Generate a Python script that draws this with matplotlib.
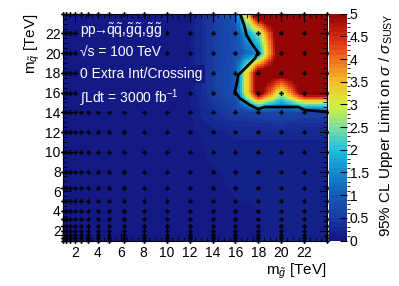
import numpy as np
import matplotlib
matplotlib.use("Agg")
import matplotlib.pyplot as plt
from matplotlib.colors import LinearSegmentedColormap, BoundaryNorm
from matplotlib.ticker import MultipleLocator

plt.rcParams["font.family"] = ["Liberation Sans", "DejaVu Sans"]
plt.rcParams["mathtext.fontset"] = "custom"
plt.rcParams["mathtext.rm"] = "Liberation Sans"
plt.rcParams["mathtext.it"] = "Liberation Sans:italic"
plt.rcParams["mathtext.sf"] = "Liberation Sans"

# signal grid (gluino mass x squark mass), TeV
mass_points = [1, 1.25, 1.6, 2, 2.5, 3.15, 4, 5, 6.3, 8, 10, 12, 14, 16, 18, 20, 22, 24]

lim_gluino = [1, 4, 8, 12, 14, 16, 18, 20, 22, 24]
lim_squark = [1, 4, 8, 12, 14, 16, 18, 20, 22, 24]
limit = [
    [0.03, 0.03, 0.04, 0.05, 0.07, 0.09, 0.10, 0.10, 0.10, 0.10],  # mq = 1
    [0.03, 0.03, 0.04, 0.05, 0.07, 0.09, 0.10, 0.10, 0.10, 0.10],  # 4
    [0.03, 0.03, 0.04, 0.05, 0.09, 0.12, 0.12, 0.12, 0.12, 0.12],  # 8
    [0.03, 0.04, 0.05, 0.07, 0.15, 0.22, 0.22, 0.22, 0.22, 0.22],  # 12
    [0.03, 0.04, 0.05, 0.08, 0.35, 0.55, 0.60, 0.70, 0.60, 0.60],  # 14
    [0.03, 0.04, 0.05, 0.08, 0.50, 0.90, 5.50, 2.80, 5.50, 5.50],  # 16
    [0.03, 0.04, 0.05, 0.08, 0.50, 0.90, 5.50, 5.50, 5.50, 5.50],  # 18
    [0.03, 0.04, 0.05, 0.08, 0.50, 0.80, 1.50, 6.00, 6.00, 6.00],  # 20
    [0.03, 0.04, 0.05, 0.08, 0.50, 0.80, 2.50, 6.00, 6.00, 6.00],  # 22
    [0.03, 0.04, 0.05, 0.08, 0.50, 1.00, 6.00, 6.00, 6.00, 6.00],  # 24
]

# exclusion contour (sigma/sigma_SUSY = 1)
excl_gluino = [16.4, 16.76, 16.97, 17.41, 17.98, 17.70, 17.05, 16.24, 16.10,
               15.95, 16.39, 17.26, 17.98, 18.57, 21.47, 22.06, 24.0]
excl_squark = [24.0, 22.85, 21.83, 20.99, 20.04, 19.47, 18.70, 17.78, 16.77,
               16.09, 15.42, 14.74, 14.33, 14.54, 14.54, 14.23, 14.06]

palette = LinearSegmentedColormap.from_list("root", [
    (0.0, (0.08, 0.10, 0.52)),
    (0.1, (0.10, 0.24, 0.64)),
    (0.2, (0.08, 0.36, 0.72)),
    (0.3, (0.08, 0.55, 0.80)),
    (0.4, (0.12, 0.76, 0.88)),
    (0.5, (0.50, 0.87, 0.62)),
    (0.6, (0.84, 0.94, 0.24)),
    (0.7, (0.95, 0.76, 0.16)),
    (0.8, (0.95, 0.44, 0.12)),
    (0.9, (0.84, 0.16, 0.07)),
    (1.0, (0.58, 0.02, 0.02)),
], N=50)
palette.set_over((0.58, 0.02, 0.02))
levels = np.linspace(0, 5, 51)
norm = BoundaryNorm(levels, palette.N)

# bilinear fill of the limit map on a fine grid
xf = np.linspace(1, 24, 120)
yf = np.linspace(1, 24, 120)
lim_arr = np.array(limit)
rows = np.array([np.interp(xf, lim_gluino, r) for r in lim_arr])
zf = np.array([np.interp(yf, lim_squark, rows[:, j]) for j in range(len(xf))]).T

fig = plt.figure(figsize=(3.99, 2.86), dpi=100)
ax = fig.add_axes([0.159, 0.159, 0.661, 0.793])
mesh = ax.pcolormesh(xf, yf, zf, cmap=palette, norm=norm, shading="nearest")

gx, gy = np.meshgrid(mass_points, mass_points)
ax.plot(gx.ravel(), gy.ravel(), "P", color="black", ms=3.4, mew=0, clip_on=False, zorder=4)
ax.plot(excl_gluino, excl_squark, color="black", lw=2, zorder=5)

ax.set_xlim(1, 24)
ax.set_ylim(1, 24)
ax.set_xticks(range(2, 23, 2))
ax.set_yticks(range(2, 23, 2))
ax.xaxis.set_minor_locator(MultipleLocator(0.5))
ax.yaxis.set_minor_locator(MultipleLocator(0.5))
ax.tick_params(which="both", direction="in", top=True, right=True, labelsize=10)
ax.tick_params(which="major", length=6)
ax.tick_params(which="minor", length=3)
ax.tick_params(axis="x", pad=4)
ax.tick_params(axis="y", pad=2)

ax.set_xlabel(r"m$_{\tilde{g}}$ [TeV]", fontsize=11, loc="right", labelpad=1)
ax.set_ylabel(r"m$_{\tilde{q}}$ [TeV]", fontsize=11, loc="top", labelpad=2)

# the label block hides the grid markers behind it
box = dict(facecolor=palette(0), edgecolor="none", pad=1.5)
txt = dict(color="white", fontsize=10, transform=ax.transAxes, va="center",
           ha="left", zorder=6, bbox=box)
ax.text(0.063, 0.925, r"pp$\!\!\rightarrow\!\!\tilde{\mathrm{q}}\tilde{\mathrm{q}},\!\tilde{\mathrm{g}}"
        r"\tilde{\mathrm{q}},\!\tilde{\mathrm{g}}\tilde{\mathrm{g}}$", **txt)
ax.text(0.063, 0.830, "\u221as = 100 TeV", **txt)
ax.text(0.063, 0.733, "0 Extra Int/Crossing", **txt)
ax.text(0.063, 0.628, r"$\int$Ldt = 3000 fb$^{-1}$", **txt)

cax = fig.add_axes([0.8246, 0.159, 0.045, 0.793])
cb = fig.colorbar(mesh, cax=cax, ticks=np.arange(0, 5.01, 0.5))
cb.outline.set_visible(False)
cb.ax.tick_params(direction="in", length=5, labelsize=10, pad=2)
cb.ax.set_yticklabels(["0", "0.5", "1", "1.5", "2", "2.5", "3", "3.5", "4", "4.5", "5"])
cb.set_label(r"95% CL Upper Limit on $\sigma$ / $\sigma_{\mathrm{SUSY}}$", fontsize=11, loc="top", labelpad=6)

fig.savefig("out.png", dpi=100)
